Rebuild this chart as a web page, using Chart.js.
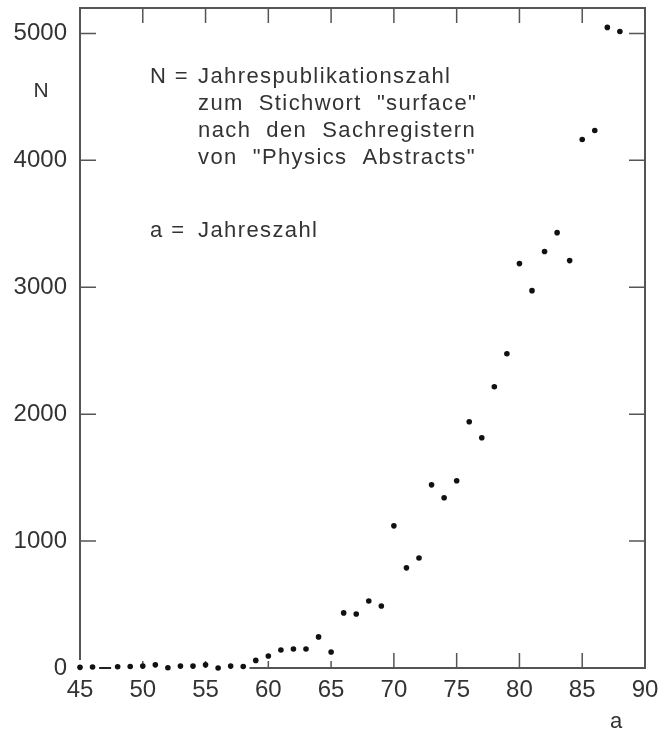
<!DOCTYPE html>
<html>
<head>
<meta charset="utf-8">
<script src="https://cdn.jsdelivr.net/npm/chart.js@4"></script>
<style>
  html, body { margin: 0; padding: 0; background: #fff; }
</style>
</head>
<body>
<canvas id="chart" width="660" height="734"></canvas>
<script>
// Jahrespublikationszahl "surface" (Physics Abstracts)
const years  = [45, 46, 47, 48, 49, 50, 51, 52, 53, 54, 55, 56, 57, 58, 59,
                60, 61, 62, 63, 64, 65, 66, 67, 68, 69, 70, 71, 72, 73, 74,
                75, 76, 77, 78, 79, 80, 81, 82, 83, 84, 85, 86, 87, 88];
const counts = [5, 8, 0, 10, 12, 15, 25, 2, 15, 15, 25, 0, 15, 12, 60,
                95, 142, 150, 150, 245, 126, 434, 426, 528, 489, 1120, 789, 867, 1443, 1341,
                1475, 1940, 1814, 2216, 2476, 3186, 2973, 3281, 3430, 3210, 4164, 4235, 5047, 5015];
const dashYears = [47];   // drawn as a short dash instead of a dot

const xTicks = [45, 50, 55, 60, 65, 70, 75, 80, 85, 90];
const yTicks = [0, 1000, 2000, 3000, 4000, 5000];
const baseLineFrom = 58.5; // bottom frame line only visible from here on in the scan

const noteLines = [
  'Jahrespublikationszahl',
  'zum  Stichwort  "surface"',
  'nach  den  Sachregistern',
  'von  "Physics  Abstracts"'
];
const noteYear = 'Jahreszahl';

const ink = '#333';
const tickFont = { family: '"Liberation Sans", Arial, sans-serif', size: 24 };
const isDash = ctx => dashYears.includes(years[ctx.dataIndex]);

const framePlugin = {
  id: 'frame',
  beforeDatasetsDraw(chart) {
    const { ctx, chartArea: a, scales: { x, y } } = chart;
    ctx.save();
    ctx.strokeStyle = '#555';
    ctx.lineWidth = 2;
    ctx.beginPath();
    ctx.moveTo(a.left, a.bottom - 8);
    ctx.lineTo(a.left, a.top);
    ctx.lineTo(a.right, a.top);
    ctx.lineTo(a.right, a.bottom);
    ctx.lineTo(x.getPixelForValue(baseLineFrom), a.bottom);
    ctx.stroke();

    ctx.lineWidth = 1.5;
    ctx.beginPath();
    xTicks.slice(1, -1).forEach(v => {
      const px = x.getPixelForValue(v);
      const len = v >= 70 ? 15 : 7;
      ctx.moveTo(px, a.bottom); ctx.lineTo(px, a.bottom - len);
      ctx.moveTo(px, a.top);    ctx.lineTo(px, a.top + 15);
    });
    yTicks.slice(1).forEach(v => {
      const py = y.getPixelForValue(v);
      ctx.moveTo(a.left, py);  ctx.lineTo(a.left + 16, py);
      ctx.moveTo(a.right, py); ctx.lineTo(a.right - 16, py);
    });
    ctx.stroke();
    ctx.restore();
  },
  afterDraw(chart) {
    const { ctx } = chart;
    ctx.save();
    ctx.fillStyle = ink;
    ctx.textBaseline = 'middle';
    ctx.font = '22px "Liberation Sans", Arial, sans-serif';
    ctx.letterSpacing = '1.4px';
    ctx.fillText('N =', 150, 77);
    noteLines.forEach((t, i) => ctx.fillText(t, 198, 77 + i * 27));
    ctx.fillText('a =', 150, 231);
    ctx.fillText(noteYear, 198, 231);

    ctx.letterSpacing = '0px';
    ctx.textAlign = 'center';
    ctx.font = '21px "Liberation Sans", Arial, sans-serif';
    ctx.fillText('N', 41, 91);
    ctx.font = '22px "Liberation Sans", Arial, sans-serif';
    ctx.fillText('a', 616, 722);
    ctx.restore();
  }
};

new Chart(document.getElementById('chart'), {
  type: 'scatter',
  data: {
    datasets: [{
      data: years.map((yr, i) => ({ x: yr, y: counts[i] })),
      showLine: false,
      clip: false,
      pointBackgroundColor: '#111',
      pointBorderColor: '#222',
      pointBorderWidth: ctx => isDash(ctx) ? 2 : 0,
      pointStyle: ctx => isDash(ctx) ? 'line' : 'circle',
      pointRadius: ctx => isDash(ctx) ? 6 : 2.8
    }]
  },
  options: {
    responsive: false,
    animation: false,
    layout: { padding: { top: 8, right: 15, left: 0, bottom: 0 } },
    plugins: { legend: { display: false }, tooltip: { enabled: false } },
    scales: {
      x: {
        type: 'linear',
        min: 45, max: 90,
        grid: { display: false, drawTicks: false },
        border: { display: false },
        afterBuildTicks: s => { s.ticks = xTicks.map(v => ({ value: v })); },
        afterFit: s => { s.height = 66; s.paddingLeft = 0; s.paddingRight = 0; },
        ticks: { color: ink, font: tickFont, padding: 8, maxRotation: 0,
                 callback: v => String(v) }
      },
      y: {
        min: 0, max: 5200,
        grid: { display: false, drawTicks: false },
        border: { display: false },
        afterBuildTicks: s => { s.ticks = yTicks.map(v => ({ value: v })); },
        afterFit: s => { s.width = 80; s.paddingTop = 0; s.paddingBottom = 0; },
        ticks: { color: ink, font: tickFont, padding: 13,
                 callback: v => String(v) }
      }
    }
  },
  plugins: [framePlugin]
});
</script>
</body>
</html>
